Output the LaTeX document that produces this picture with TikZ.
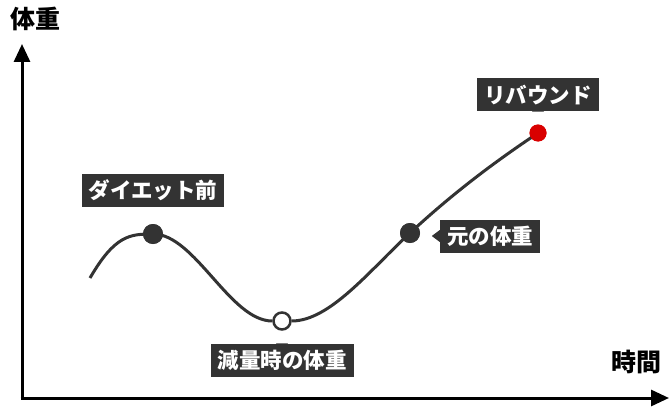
\documentclass[tikz,border=0pt]{standalone}
\usepackage{fontspec}
\newfontfamily\cjk{Noto Sans CJK JP}
\usetikzlibrary{arrows.meta}
\definecolor{dk}{HTML}{333333}
\tikzset{
  lbl/.style={fill=dk,text=white,font=\cjk\bfseries\fontsize{21.5}{21.5}\selectfont,inner xsep=7pt,minimum height=33pt},
  ptr/.style={fill=dk},
  dot/.style={circle,minimum size=20pt,inner sep=0pt,fill=dk},
  ax/.style={line width=3pt,draw=black,-{Triangle[length=18pt,width=16pt]}},
  axt/.style={font=\cjk\bfseries\fontsize{25}{25}\selectfont}
}
\begin{document}
\begin{tikzpicture}[x=1pt,y=-1pt]
\useasboundingbox (0,0) rectangle (670,420);
\coordinate (o) at (22,398);
\coordinate (yt) at (22,44);
\coordinate (xt) at (669,398);
\draw[ax] (o) -- (yt);
\draw[ax] ([xshift=-1.5pt]o) -- (xt);
\node[axt] (yl) at (35,19) {体重};
\node[axt] (xl) at (636,362) {時間};
\coordinate (s) at (90,278);
\node[dot] (p1) at (153,234) {};
\node[dot,fill=white,draw=dk,line width=2.5pt,minimum size=17pt] (p2) at (282,321) {};
\node[dot] (p3) at (410,233) {};
\node[dot,fill=red!85!black,minimum size=17pt] (p4) at (538,133) {};
\draw[dk,line width=3pt] (s) .. controls (115,235) and (130,234) .. (p1.center)
  .. controls (195,234) and (230,321) .. (p2.west);
\draw[dk,line width=3pt] (p2.east) .. controls (330,321) and (370,270) .. (p3.center)
  .. controls (450,196) and (490,165) .. (p4.center);
\node[dot] at (p1) {};
\node[dot] at (p3) {};
\node[dot,fill=red!85!black,minimum size=17pt] at (p4) {};
\node[lbl] (l1) at (153,190) {ダイエット前};
\fill[ptr] ([xshift=-6pt]l1.south) -- ([xshift=6pt]l1.south) -- ([yshift=8pt]l1.south) -- cycle;
\node[lbl] (l2) at (282,360) {減量時の体重};
\fill[ptr] ([xshift=-6pt]l2.north) -- ([xshift=6pt]l2.north) -- ([yshift=-8pt]l2.north) -- cycle;
\node[lbl] (l3) at (490,236) {元の体重};
\fill[ptr] ([yshift=-6pt]l3.west) -- ([yshift=6pt]l3.west) -- ([xshift=-8pt]l3.west) -- cycle;
\node[lbl] (l4) at (538,95) {リバウンド};
\fill[ptr] ([xshift=-6pt]l4.south) -- ([xshift=6pt]l4.south) -- ([yshift=8pt]l4.south) -- cycle;
\end{tikzpicture}
\end{document}
